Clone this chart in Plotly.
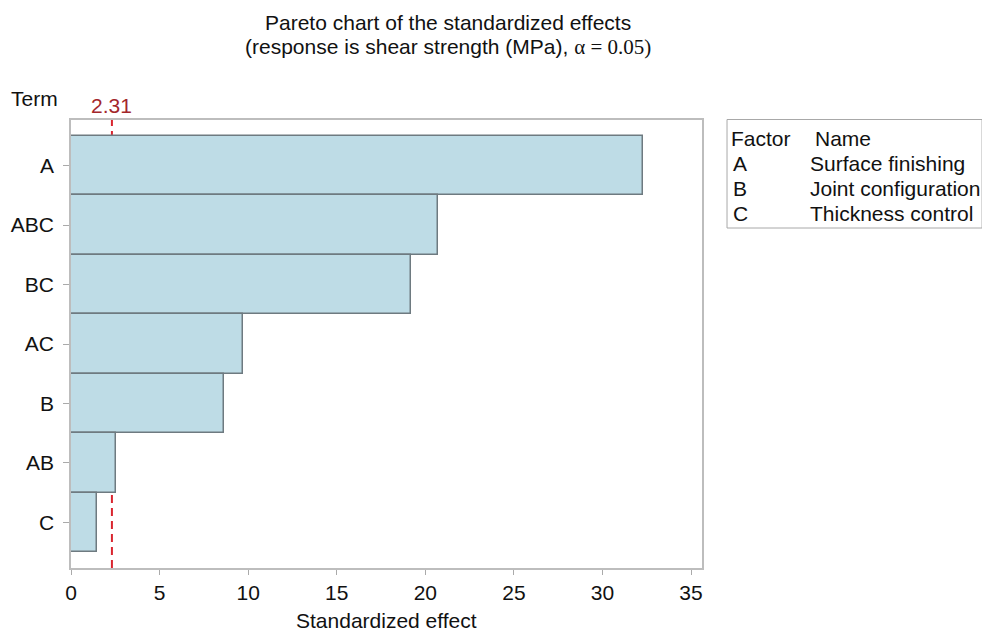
import plotly.graph_objects as go

terms = ["A", "ABC", "BC", "AC", "B", "AB", "C"]
effects = [32.3, 20.7, 19.2, 9.7, 8.64, 2.56, 1.45]
critical = 2.31
x_ticks = [0, 5, 10, 15, 20, 25, 30, 35]
factors = ["A", "B", "C"]
factor_names = ["Surface finishing", "Joint configuration", "Thickness control"]

FONT = "Liberation Sans, Arial, Helvetica, sans-serif"
FS = 21
TXT = "#111111"

# plot-area geometry in pixels (used only for placing text annotations)
L, R, T, B = 71.3, 701.7, 120.0, 568.0
PW, PH = R - L, B - T


def px(x):
    return (x - L) / PW


def py(y):
    return 1 - (y - T) / PH


fig = go.Figure()
fig.add_trace(go.Bar(
    x=effects, y=terms, orientation="h",
    marker=dict(color="#BEDCE6", line=dict(color="#6E7A80", width=1.5)),
    width=1.0, showlegend=False,
))

fig.add_shape(type="line", xref="x", yref="paper", x0=critical, x1=critical, y0=0, y1=1,
              line=dict(color="#D9252F", width=2, dash="8px,5px"), layer="below")
fig.add_annotation(xref="x", yref="paper", x=critical, y=py(105), text="2.31",
                   showarrow=False, yanchor="middle", xanchor="center",
                   font=dict(family=FONT, size=FS, color="#A3262B"))

fig.add_annotation(xref="paper", yref="paper", x=px(9), y=py(98), text="Term",
                   showarrow=False, xanchor="left", yanchor="middle",
                   font=dict(family=FONT, size=FS, color=TXT))

# title
fig.add_annotation(xref="paper", yref="paper", x=px(448), y=py(22),
                   text="Pareto chart of the standardized effects",
                   showarrow=False, xanchor="center", yanchor="middle",
                   font=dict(family=FONT, size=FS, color=TXT))
fig.add_annotation(xref="paper", yref="paper", x=px(448), y=py(46.5),
                   text="(response is shear strength (MPa), "
                        "<span style='font-family:Liberation Serif, Times New Roman, serif'>\u03b1 = 0.05)</span>",
                   showarrow=False, xanchor="center", yanchor="middle",
                   font=dict(family=FONT, size=FS, color=TXT))

# x-axis title
fig.add_annotation(xref="paper", yref="paper", x=0.5, y=py(620),
                   text="Standardized effect",
                   showarrow=False, xanchor="center", yanchor="middle",
                   font=dict(family=FONT, size=FS, color=TXT))

# factor table
fig.add_shape(type="rect", xref="paper", yref="paper",
              x0=px(726.7), x1=px(981.5), y0=py(228), y1=py(119.5),
              line=dict(color="#A8A8A8", width=1), fillcolor="rgba(0,0,0,0)")
rows_y = [138, 163, 188, 213]
fig.add_annotation(xref="paper", yref="paper", x=px(728.5), y=py(rows_y[0]),
                   text="Factor", showarrow=False, xanchor="left", yanchor="middle",
                   font=dict(family=FONT, size=FS, color=TXT))
fig.add_annotation(xref="paper", yref="paper", x=px(813), y=py(rows_y[0]),
                   text="Name", showarrow=False, xanchor="left", yanchor="middle",
                   font=dict(family=FONT, size=FS, color=TXT))
for i, (f, n) in enumerate(zip(factors, factor_names)):
    yy = py(rows_y[i + 1])
    fig.add_annotation(xref="paper", yref="paper", x=px(731), y=yy, text=f,
                       showarrow=False, xanchor="left", yanchor="middle",
                       font=dict(family=FONT, size=FS, color=TXT))
    fig.add_annotation(xref="paper", yref="paper", x=px(808), y=yy, text=n,
                       showarrow=False, xanchor="left", yanchor="middle",
                       font=dict(family=FONT, size=FS, color=TXT))

fig.update_layout(
    width=982, height=633,
    margin=dict(l=71, r=280, t=120, b=65),
    paper_bgcolor="white", plot_bgcolor="white",
    bargap=0,
    xaxis=dict(
        range=[0, 35.62], tickvals=x_ticks, ticktext=[str(v) for v in x_ticks],
        showgrid=False, zeroline=False, automargin=False,
        showline=True, linecolor="#BDBDBD", linewidth=1.5, mirror=True,
        ticks="outside", ticklen=5, tickcolor="#AAAAAA",
        tickfont=dict(family=FONT, size=FS, color=TXT),
    ),
    yaxis=dict(
        categoryorder="array", categoryarray=terms[::-1],
        range=[-0.765, 6.765],
        showgrid=False, zeroline=False, automargin=False,
        showline=True, linecolor="#BDBDBD", linewidth=1.5, mirror=True,
        ticks="outside", ticklen=6, tickcolor="#AAAAAA",
        ticklabelstandoff=5,
        tickfont=dict(family=FONT, size=FS, color=TXT),
    ),
)

fig.write_html(
    "out.html",
    config={"displayModeBar": False},
    post_script="document.body.style.margin='0';document.body.style.overflow='hidden';",
)
